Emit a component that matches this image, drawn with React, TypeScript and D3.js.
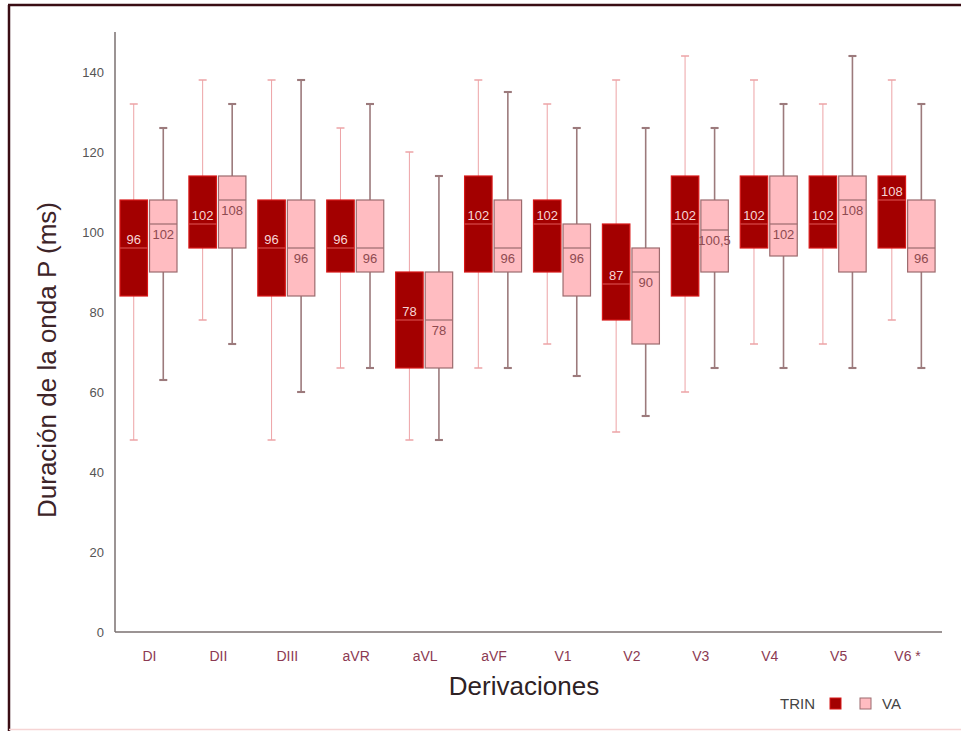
import React from 'react';
import * as d3 from 'd3';

const categories = ['DI', 'DII', 'DIII', 'aVR', 'aVL', 'aVF', 'V1', 'V2', 'V3', 'V4', 'V5', 'V6 *'];
const groups = ['TRIN', 'VA'];

// TRIN boxes
const trinMin = [48, 78, 48, 66, 48, 66, 72, 50, 60, 72, 72, 78];
const trinQ1 = [84, 96, 84, 90, 66, 90, 90, 78, 84, 96, 96, 96];
const trinMedian = [96, 102, 96, 96, 78, 102, 102, 87, 102, 102, 102, 108];
const trinQ3 = [108, 114, 108, 108, 90, 114, 108, 102, 114, 114, 114, 114];
const trinMax = [132, 138, 138, 126, 120, 138, 132, 138, 144, 138, 132, 138];

// VA boxes
const vaMin = [63, 72, 60, 66, 48, 66, 64, 54, 66, 66, 66, 66];
const vaQ1 = [90, 96, 84, 90, 66, 90, 84, 72, 90, 94, 90, 90];
const vaMedian = [102, 108, 96, 96, 78, 96, 96, 90, 100.5, 102, 108, 96];
const vaQ3 = [108, 114, 108, 108, 90, 108, 102, 96, 108, 114, 114, 108];
const vaMax = [126, 132, 138, 132, 114, 135, 126, 126, 126, 132, 144, 132];

const yTicks = [0, 20, 40, 60, 80, 100, 120, 140];

const styles: Record<string, any> = {
  TRIN: { fill: '#a30000', stroke: '#d81818', whisker: '#eda3a6', whiskerW: 1, median: '#d84a4a', label: '#f6d6d6', dy: -4 },
  VA: { fill: '#ffbcc1', stroke: '#9c6b6e', whisker: '#9c7a7c', whiskerW: 1.6, median: '#9c6b6e', label: '#8e4a50', dy: 15 },
};

const fmt = (v: number) => String(v).replace('.', ',');

export default function App() {
  const W = 961, H = 731;
  const x = d3.scaleBand<string>().domain(categories).range([115, 942]);
  const x1 = d3.scaleBand<string>().domain(groups).range([5, 62]).paddingInner(0.07);
  const y = d3.scaleLinear().domain([0, 150]).range([632, 32]);

  const rows = groups.flatMap(g => categories.map((c, i) => ({
    g, c,
    min: g === 'TRIN' ? trinMin[i] : vaMin[i],
    q1: g === 'TRIN' ? trinQ1[i] : vaQ1[i],
    med: g === 'TRIN' ? trinMedian[i] : vaMedian[i],
    q3: g === 'TRIN' ? trinQ3[i] : vaQ3[i],
    max: g === 'TRIN' ? trinMax[i] : vaMax[i],
  })));

  const font = '"Liberation Sans", Arial, sans-serif';

  return (
    <svg width={W} height={H} style={{ position: 'absolute', left: 0, top: 0, background: '#fff' }} fontFamily={font}>
      {/* frame */}
      <line x1={8} x2={W} y1={5} y2={5} stroke="#3a0d14" strokeWidth={2.5} />
      <line x1={9} x2={9} y1={5} y2={H} stroke="#3a0d14" strokeWidth={2.5} />
      <line x1={9} x2={W} y1={729.5} y2={729.5} stroke="#f6d4d4" strokeWidth={1.5} />

      {/* axes */}
      <line x1={115} x2={115} y1={y(150)} y2={y(0)} stroke="#7a7070" strokeWidth={1.5} />
      <line x1={115} x2={942} y1={y(0)} y2={y(0)} stroke="#7a7070" strokeWidth={1.5} />
      {yTicks.map(t => (
        <text key={t} x={104} y={y(t)} dy="0.35em" textAnchor="end" fontSize={13} fill="#555">{t}</text>
      ))}
      {categories.map(c => (
        <text key={c} x={(x(c) ?? 0) + x.bandwidth() / 2} y={656} dy="0.35em" textAnchor="middle" fontSize={14} fill="#8c3a52">{c}</text>
      ))}

      {/* boxes */}
      {rows.map(r => {
        const s = styles[r.g];
        const bx = (x(r.c) ?? 0) + (x1(r.g) ?? 0);
        const bw = x1.bandwidth();
        const cx = bx + bw / 2;
        return (
          <g key={r.g + r.c}>
            <line x1={cx} x2={cx} y1={y(r.max)} y2={y(r.q3)} stroke={s.whisker} strokeWidth={s.whiskerW} />
            <line x1={cx} x2={cx} y1={y(r.q1)} y2={y(r.min)} stroke={s.whisker} strokeWidth={s.whiskerW} />
            <line x1={cx - 4} x2={cx + 4} y1={y(r.max)} y2={y(r.max)} stroke={s.whisker} strokeWidth={s.whiskerW + 0.5} />
            <line x1={cx - 4} x2={cx + 4} y1={y(r.min)} y2={y(r.min)} stroke={s.whisker} strokeWidth={s.whiskerW + 0.5} />
            <rect x={bx} y={y(r.q3)} width={bw} height={y(r.q1) - y(r.q3)} fill={s.fill} stroke={s.stroke} strokeWidth={1.2} />
            <line x1={bx} x2={bx + bw} y1={y(r.med)} y2={y(r.med)} stroke={s.median} strokeWidth={1.2} />
            <text x={cx} y={y(r.med) + s.dy} textAnchor="middle" fontSize={13} fill={s.label}>{fmt(r.med)}</text>
          </g>
        );
      })}

      {/* titles */}
      <text transform={`translate(56, 360) rotate(-90)`} textAnchor="middle" fontSize={26} fill="#3d2428">Duración de la onda P (ms)</text>
      <text x={524} y={695} textAnchor="middle" fontSize={26} fill="#2e2224">Derivaciones</text>

      {/* legend */}
      <text x={780} y={709} fontSize={15} fill="#444">TRIN</text>
      <rect x={830} y={698} width={11} height={11} fill={styles.TRIN.fill} stroke={styles.TRIN.stroke} />
      <rect x={860} y={698} width={11} height={11} fill={styles.VA.fill} stroke={styles.VA.stroke} />
      <text x={882} y={709} fontSize={15} fill="#444">VA</text>
    </svg>
  );
}
